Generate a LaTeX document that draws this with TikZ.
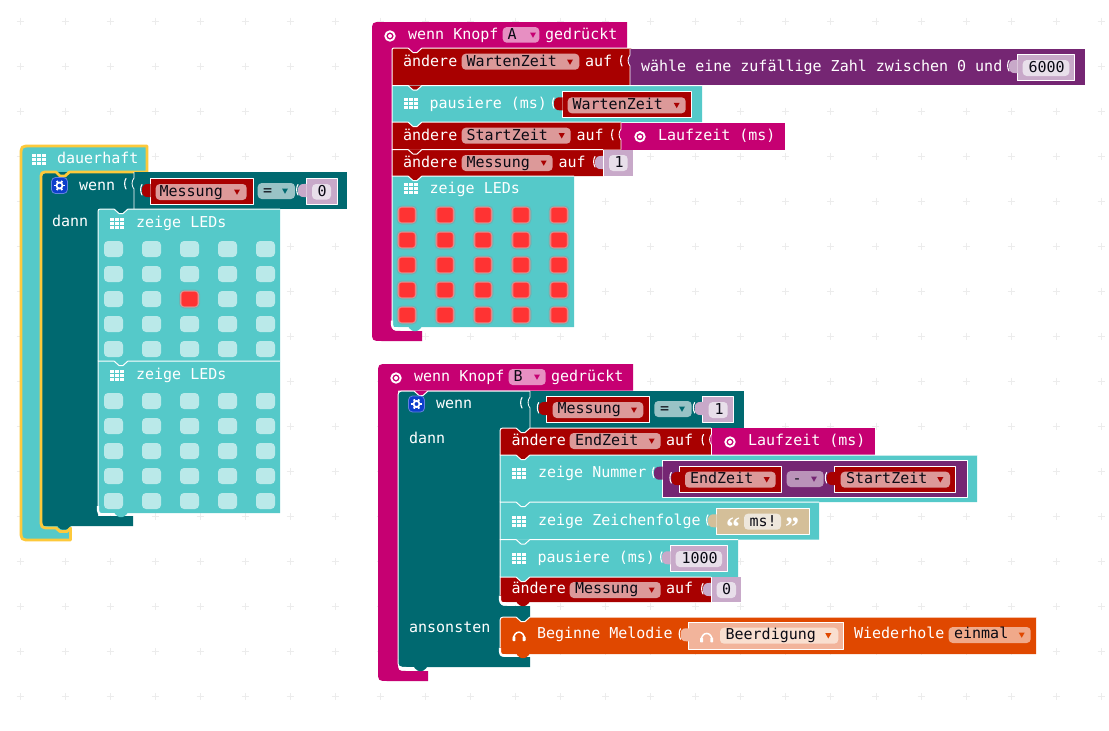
\documentclass[tikz,border=0pt]{standalone}
\usepackage{fontspec}
\setmainfont{DejaVu Sans Mono}
\newfontfamily\qfont{Liberation Serif}
\definecolor{cy}{HTML}{55C9C9}
\definecolor{te}{HTML}{006970}
\definecolor{rd}{HTML}{A80000}
\definecolor{mg}{HTML}{C60072}
\definecolor{pu}{HTML}{752673}
\definecolor{og}{HTML}{E04800}
\definecolor{nu}{HTML}{C8A9C9}
\definecolor{nf}{HTML}{E8DFEA}
\definecolor{rf}{HTML}{DC9999}
\definecolor{mf}{HTML}{E78FC2}
\definecolor{tf}{HTML}{99C3C6}
\definecolor{pf}{HTML}{BA93B9}
\definecolor{st}{HTML}{D4BF99}
\definecolor{sf}{HTML}{EEE7DC}
\definecolor{so}{HTML}{F2B49B}
\definecolor{sg}{HTML}{F9DFD0}
\definecolor{ef}{HTML}{F0A98A}
\definecolor{yl}{HTML}{FDC93B}
\definecolor{lo}{HTML}{BAE9E9}
\definecolor{lr}{HTML}{FF3333}
\definecolor{gr}{HTML}{ECECEC}
\definecolor{bl}{HTML}{0D3FCC}
\definecolor{ink}{HTML}{0A0A14}
\tikzset{
  hl/.style={white,line width=1pt},
  txt/.style={anchor=base west,inner sep=0pt,outer sep=0pt,font=\fontsize{15}{15}\selectfont},
  qt/.style={anchor=base,inner sep=0pt,outer sep=0pt,text=white,font=\qfont\bfseries\fontsize{28}{28}\selectfont},
}
\newcount\nid
\newcommand\lbl[4]{\global\advance\nid by 1 \node[txt,text=#3] (n\the\nid) at ({#1+.6},#2) {#4};}
\newcommand\fld[5]{\fill[#5,rounded corners=4pt] (#1,#2) rectangle (#3,#4);}
\newcommand\arr[3]{\fill[#3] ({#1-3},{#2-2.5}) -- ({#1+3},{#2-2.5}) -- (#1,{#2+2.8}) -- cycle;}
\newcommand\tabb[3]{\fill[#3,rounded corners=1pt] ({#1+16},#2) -- ({#1+20.5},{#2+4}) -- ({#1+25.5},{#2+4}) -- ({#1+30},#2) -- cycle;}
\newcommand\stmt[8]{%
  \fill[#5] ({#1+#7},#2) -- (#3,#2) -- (#3,#4) -- ({#1+#8},#4) .. controls (#1,#4) .. (#1,{#4-#8}) -- (#1,{#2+#7}) .. controls (#1,#2) .. ({#1+#7},#2) -- cycle;
  \tabb{#1}{#2}{#6}
  \draw[hl] (#1,{#4-#8}) -- (#1,{#2+#7}) .. controls (#1,#2) .. ({#1+#7},#2) -- ({#1+16},#2) -- ({#1+21},{#2+4.5}) -- ({#1+25},{#2+4.5}) -- ({#1+30},#2) -- (#3,#2);}
\newcommand\band[2]{\draw[white,line width=2.2pt] (#1,{#2-7}) .. controls (#1,{#2+1.2}) .. ({#1+7},{#2+1.2}) -- ({#1+17},{#2+1.2});}
\newcommand\paren[2]{\draw[white,line width=1.1pt,line cap=round] ({#1-8},{#2+6.5}) .. controls ({#1-9.8},{#2+9}) and ({#1-9.8},{#2+14}) .. ({#1-8},{#2+17});}
\newcommand\tabfill[3]{\fill[#3] ({#1+.6},{#2+6}) .. controls ({#1-2.5},{#2+6.2}) and ({#1-8},{#2+4.5}) .. ({#1-8},{#2+12.5}) .. controls ({#1-8},{#2+20.5}) and ({#1-2.5},{#2+18.8}) .. ({#1+.6},{#2+19}) -- cycle;}
% reporter with white outline and coloured tab
\newcommand\rep[5]{%
  \paren{#1}{#2}
  \fill[#5] (#1,#2) rectangle (#3,#4);
  \draw[white,line width=1pt] (#1,#2) rectangle (#3,#4);
  \tabfill{#1}{#2}{#5}}
% flush reporter (no full outline): white left edge with a small bump
\newcommand\repf[5]{%
  \paren{#1}{#2}
  \fill[#5] (#1,#2) rectangle (#3,#4);
  \fill[#5] (#1,{#2+6}) .. controls ({#1-2.6},{#2+9}) and ({#1-2.6},{#2+14}) .. (#1,{#2+17}) -- cycle;
  \draw[white,line width=.8pt] (#1,#2) -- (#1,{#2+6}) .. controls ({#1-2.6},{#2+9}) and ({#1-2.6},{#2+14}) .. (#1,{#2+17}) -- (#1,#4);}
\newcommand\gridi[2]{\foreach \gi in {0,1,2}{\foreach \gj in {0,1,2}{\fill[white] ({#1+\gi*5},{#2+\gj*4}) rectangle ({#1+\gi*5+4},{#2+\gj*4+3});}}}
\newcommand\target[2]{\draw[white,line width=1.9pt] (#1,#2) circle[radius=4.7pt];\fill[white] (#1,#2) circle[radius=2pt];}
\newcommand\gear[2]{%
  \fill[bl,rounded corners=4pt] ({#1-8},{#2-8}) rectangle ({#1+8},{#2+8});
  \draw[white!35!bl,line width=.8pt,rounded corners=4pt] ({#1-8},{#2-8}) rectangle ({#1+8},{#2+8});
  \foreach \ga in {0,60,120,180,240,300}{\draw[white,line width=1.9pt] ({#1+2.5*cos(\ga)},{#2+2.5*sin(\ga)}) -- ({#1+5.3*cos(\ga)},{#2+5.3*sin(\ga)});}
  \draw[white,line width=1.7pt] (#1,#2) circle[radius=3pt];}
\newcommand\phones[2]{%
  \draw[white,line width=1.5pt] ({#1-5.6},{#2+4}) .. controls ({#1-5.6},{#2-6.5}) and ({#1+5.6},{#2-6.5}) .. ({#1+5.6},{#2+4});
  \fill[white,rounded corners=.6pt] ({#1-6.5},{#2+.5}) rectangle ({#1-3.6},{#2+5});
  \fill[white,rounded corners=.6pt] ({#1+3.6},{#2+.5}) rectangle ({#1+6.5},{#2+5});}
\newcommand\ledoff[2]{\fill[lo,rounded corners=4pt] ({#1-9.5},{#2-8}) rectangle ({#1+9.5},{#2+8});}
\newcommand\ledon[2]{%
  \fill[lr,opacity=.15,rounded corners=5pt] ({#1-10.5},{#2-9.5}) rectangle ({#1+10.5},{#2+9.5});
  \fill[lr!50!white!80!gray,rounded corners=4pt] ({#1-9.3},{#2-8.3}) rectangle ({#1+9.3},{#2+8.3});
  \fill[lr!80!white!90!gray,rounded corners=3pt] ({#1-8.3},{#2-7.6}) rectangle ({#1+8.3},{#2+7.6});
  \fill[lr,rounded corners=2pt] ({#1-7.5},{#2-7}) rectangle ({#1+7.5},{#2+7});}
\begin{document}
\begin{tikzpicture}[x=1pt,y=-1pt,line join=round]
\useasboundingbox (0,0) rectangle (1109,731);
\fill[white] (0,0) rectangle (1109,731);
% background grid
\foreach \i in {0,...,24}{\foreach \j in {0,...,15}{
  \draw[gr,line width=.9pt] ({20+45.05*\i-3.5},{21+45.05*\j}) -- ({20+45.05*\i+3.5},{21+45.05*\j});
  \draw[gr,line width=.9pt] ({20+45.05*\i},{21+45.05*\j-3.5}) -- ({20+45.05*\i},{21+45.05*\j+3.5});}}

%%% ---------- dauerhaft ----------
\fill[cy] (21,156) .. controls (21,146) .. (31,146) -- (147,146) -- (147,172) -- (71,172) -- (71,540) -- (31,540) .. controls (21,540) .. (21,530) -- cycle;
\fill[te] (51,172) -- (134,172) -- (134,209) -- (98,209) -- (98,516) -- (133,516) -- (133,526) -- (49,526) .. controls (41,526) .. (41,518) -- (41,180) .. controls (41,172) .. (51,172) -- cycle;
\fill[te,rounded corners=1pt] (57,526) -- (61,529.5) -- (67,529.5) -- (71,526) -- cycle;
\draw[yl,line width=2.8pt] (21,156) .. controls (21,146) .. (31,146) -- (147,146) -- (147,172) -- (69.5,172) -- (65,176) -- (60,176) -- (56,172) -- (49,172) .. controls (41,172) .. (41,180) -- (41,518) .. controls (41,528) .. (50,528) -- (56,528) -- (60,531.5) -- (67,531.5) -- (70.5,528) -- (70.5,540) -- (31,540) .. controls (21,540) .. (21,530) -- cycle;
\gridi{32}{154}
\lbl{56.5}{163}{white}{dauerhaft}
\gear{59.5}{185.5}
\lbl{78.5}{190}{white}{wenn}
\repf{134}{172}{347}{209}{te}
\rep{150}{178}{253}{204}{rd}
\fld{155.7}{184}{246.7}{200}{rf}
\lbl{159}{196.3}{ink}{Messung}
\arr{237}{192}{rd}
\fld{257.7}{183}{295}{199}{tf}
\lbl{262.5}{195}{ink}{=}
\arr{285}{191}{te}
\rep{306}{178}{337}{204}{nu}
\fld{312}{184}{331}{199.5}{nf}
\lbl{317}{196.3}{ink}{0}
\lbl{51.5}{226}{white}{dann}

\stmt{98}{209}{280}{361}{cy}{te}{5}{0}
\gridi{110}{218}
\lbl{135.5}{227}{white}{zeige LEDs}
\foreach \y in {249,274,299,324,349}{\foreach \x in {113.5,151.5,189.5,227.5,265.5}{\ledoff{\x}{\y}}}
\ledon{189.5}{299}
\stmt{98}{361}{280}{513}{cy}{cy}{0}{6}
\gridi{110}{370}
\lbl{135.5}{379}{white}{zeige LEDs}
\foreach \y in {401,426,451,476,501}{\foreach \x in {113.5,151.5,189.5,227.5,265.5}{\ledoff{\x}{\y}}}
\band{98}{513}
\tabb{98}{513}{cy}

%%% ---------- wenn Knopf A ----------
\fill[mg] (372,32) .. controls (372,22) .. (382,22) -- (627,22) -- (627,48) -- (392,48) -- (392,322) .. controls (392,331) .. (401,331) -- (422,331) -- (422,341) -- (382,341) .. controls (372,341) .. (372,331) -- cycle;
\target{390}{36}
\lbl{407.5}{39}{white}{wenn Knopf}
\fld{502.7}{27}{539.3}{42.7}{mf}
\lbl{507}{39}{ink}{A}
\arr{533}{35}{mg}
\lbl{544.5}{39}{white}{gedrückt}

\stmt{392}{48}{631}{85}{rd}{mg}{4}{0}
\lbl{402.5}{66}{white}{ändere}
\fld{461.7}{53.7}{579.3}{69.7}{rf}
\lbl{466}{66}{ink}{WartenZeit}
\arr{570}{62}{rd}
\lbl{584.5}{66}{white}{auf}
\repf{630}{49}{1085}{85}{pu}
\lbl{640.5}{71}{white}{wähle eine zufällige Zahl zwischen 0 und}
\rep{1017}{54}{1074.3}{80.7}{nu}
\fld{1022.7}{60}{1069.3}{76}{nf}
\lbl{1028}{72}{ink}{6000}

\stmt{392}{85.5}{702}{122}{cy}{rd}{0}{0}
\gridi{404}{98}
\lbl{429}{108}{white}{pausiere (ms)}
\rep{562}{91.3}{691.7}{117.3}{rd}
\fld{567.7}{97.3}{685.7}{113.3}{rf}
\lbl{572}{109.3}{ink}{WartenZeit}
\arr{676.7}{105.3}{rd}

\stmt{392}{122}{621}{149.5}{rd}{cy}{0}{0}
\lbl{402.5}{140}{white}{ändere}
\fld{461.7}{127.7}{570.7}{143.7}{rf}
\lbl{466}{140}{ink}{StartZeit}
\arr{561.7}{135.7}{rd}
\lbl{576}{140}{white}{auf}
\repf{621}{123}{785}{149.5}{mg}
\target{640}{136.7}
\lbl{657.5}{140}{white}{Laufzeit (ms)}

\stmt{392}{149.5}{603}{176}{rd}{rd}{0}{0}
\lbl{402.5}{167}{white}{ändere}
\fld{461.7}{155}{552.7}{171}{rf}
\lbl{466}{167}{ink}{Messung}
\arr{543.7}{163}{rd}
\lbl{558}{167}{white}{auf}
\paren{603}{150}
\fill[nu] (603,150) rectangle (633,176);
\tabfill{603}{150}{nu}
\draw[white,line width=.7pt] (603,150) -- (603,176);
\fld{609}{155}{627.7}{171}{nf}
\lbl{614}{167}{ink}{1}

\stmt{392}{176}{574}{327}{cy}{rd}{0}{6}
\gridi{404}{183}
\lbl{429}{193}{white}{zeige LEDs}
\foreach \y in {215,240,265,290,315}{\foreach \x in {407,445,483,521,559}{\ledon{\x}{\y}}}
\band{392}{327.5}
\tabb{392}{327}{cy}

%%% ---------- wenn Knopf B ----------
\fill[mg] (378,374) .. controls (378,364) .. (388,364) -- (633,364) -- (633,390.5) -- (398,390.5) -- (398,662) .. controls (398,671) .. (407,671) -- (428,671) -- (428,681) -- (388,681) .. controls (378,681) .. (378,671) -- cycle;
\target{396}{378}
\lbl{413.5}{381}{white}{wenn Knopf}
\fld{508.7}{369}{545.7}{385}{mf}
\lbl{513}{381}{ink}{B}
\arr{537}{377}{mg}
\lbl{550.5}{381}{white}{gedrückt}

\fill[te] (398,399) .. controls (398,391) .. (406,391) -- (530,391) -- (530,428) -- (508,428) .. controls (500,428) .. (500,436) -- (500,596) .. controls (500,606) .. (508,606) -- (530,606) -- (530,617) -- (508,617) .. controls (500,617) .. (500,625) -- (500,649) .. controls (500,657) .. (508,657) -- (530,657) -- (530,667) -- (408,667) .. controls (398,667) .. (398,659) -- cycle;
\tabb{398}{391}{mg}
\draw[hl] (398,659) -- (398,399) .. controls (398,391) .. (406,391) -- (414,391) -- (419,395.5) -- (423,395.5) -- (428,391) -- (530,391);
\draw[hl] (398,659) .. controls (398,667.5) .. (408,667.5) -- (414,667.5);
\fill[te,rounded corners=1pt] (413.5,667) -- (418,671) -- (423,671) -- (427.5,667) -- cycle;
\gear{416.5}{404}
\lbl{435.5}{408}{white}{wenn}
\lbl{408.5}{443.3}{white}{dann}
\lbl{408.5}{632.7}{white}{ansonsten}
\repf{530}{391}{744}{428}{te}
\rep{546.7}{396}{649.3}{422}{rd}
\fld{552.7}{402}{643.3}{418}{rf}
\lbl{557}{413.5}{ink}{Messung}
\arr{634}{410}{rd}
\fld{654.3}{401}{691.7}{417}{tf}
\lbl{659.5}{413}{ink}{=}
\arr{682}{409}{te}
\rep{702.7}{396}{733.3}{422}{nu}
\fld{708.7}{402}{727.7}{418}{nf}
\lbl{714}{414}{ink}{1}

\stmt{500}{428}{711}{455}{rd}{te}{6}{0}
\lbl{511}{445}{white}{ändere}
\fld{569.7}{433}{660.7}{449}{rf}
\lbl{574.5}{445}{ink}{EndZeit}
\arr{651.7}{441}{rd}
\lbl{665.5}{445}{white}{auf}
\repf{711.5}{428}{875}{454.5}{mg}
\target{730}{442}
\lbl{747.5}{445}{white}{Laufzeit (ms)}

\stmt{500}{455}{977}{502}{cy}{rd}{0}{0}
\gridi{512}{468}
\lbl{537.5}{477}{white}{zeige Nummer}
\rep{662}{460.7}{967}{497.3}{pu}
\rep{679.3}{466}{781.7}{492.7}{rd}
\fld{685}{471.7}{775.7}{487.7}{rf}
\lbl{689.5}{483.5}{ink}{EndZeit}
\arr{766.7}{479.7}{rd}
\fld{786.7}{471}{823.7}{487}{pf}
\lbl{792}{483}{ink}{-}
\arr{814}{479}{pu}
\rep{834.7}{466}{955.3}{492.7}{rd}
\fld{840.7}{471.7}{950}{487.7}{rf}
\lbl{845.5}{483.5}{ink}{StartZeit}
\arr{940.3}{479.7}{rd}

\stmt{500}{502}{819}{539.5}{cy}{cy}{0}{0}
\gridi{512}{516}
\lbl{537.5}{525}{white}{zeige Zeichenfolge}
\rep{716}{508.3}{809}{534.7}{st}
\node[qt] (qopen) at (733,536) {“};
\node[qt] (qclose) at (792,536) {”};
\fld{744}{513.7}{781}{529.7}{sf}
\lbl{749}{526}{ink}{ms!}

\stmt{500}{539.5}{738}{577}{cy}{cy}{0}{0}
\gridi{512}{553}
\lbl{537}{562}{white}{pausiere (ms)}
\rep{670}{545.3}{727.7}{571.3}{nu}
\fld{675.7}{551}{722}{567}{nf}
\lbl{681}{563}{ink}{1000}

\stmt{500}{577}{711}{602}{rd}{cy}{0}{7}
\lbl{511}{593.5}{white}{ändere}
\fld{569.7}{582}{660.7}{598}{rf}
\lbl{574.5}{593.5}{ink}{Messung}
\arr{651.7}{590}{rd}
\lbl{665.5}{593.5}{white}{auf}
\paren{711}{577}
\fill[nu] (711,577) rectangle (741,602);
\tabfill{711}{577}{nu}
\draw[white,line width=.7pt] (711,577) -- (711,602);
\fld{716.7}{582}{736}{598}{nf}
\lbl{721.5}{594}{ink}{0}
\band{500}{602.5}
\tabb{500}{602}{rd}

\stmt{500}{617}{1036}{654}{og}{te}{7}{7}
\phones{519}{636}
\lbl{536.5}{638.5}{white}{Beginne Melodie}
\rep{688.5}{622.3}{843.7}{649.3}{so}
\phones{706.7}{637.3}
\fld{720}{627.7}{838.3}{643.7}{sg}
\lbl{725}{639.5}{ink}{Beerdigung}
\arr{828.3}{635.7}{og}
\lbl{853.5}{638.7}{white}{Wiederhole}
\fld{948.7}{627}{1030.7}{643}{ef}
\lbl{953.5}{638.7}{ink}{einmal}
\arr{1021.7}{635}{og}
\band{500}{654.5}
\tabb{500}{654}{og}
\end{tikzpicture}
\end{document}
